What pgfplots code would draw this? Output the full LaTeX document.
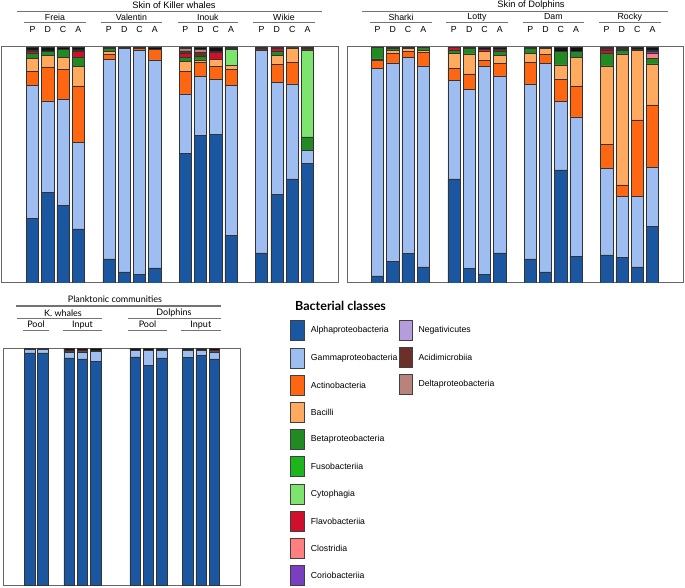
\documentclass[border=0pt]{standalone}
\usepackage{fontspec}
\setmainfont{Liberation Sans}
\newfontfamily\hum{Lato}
\usepackage{pgfplots}
\usepackage{pgfplotstable}
\pgfplotsset{compat=1.18}

\definecolor{cAl}{HTML}{1B57A0}
\definecolor{cGa}{HTML}{9EBDF0}
\definecolor{cAc}{HTML}{FF6612}
\definecolor{cBa}{HTML}{FFAA5E}
\definecolor{cBe}{HTML}{228A22}
\definecolor{cFu}{HTML}{1CB51C}
\definecolor{cCy}{HTML}{7DE56E}
\definecolor{cFl}{HTML}{D20F2A}
\definecolor{cCl}{HTML}{FF7F80}
\definecolor{cCo}{HTML}{7A3FC0}
\definecolor{cNe}{HTML}{B59DDC}
\definecolor{cAd}{HTML}{6B3128}
\definecolor{cDe}{HTML}{B8837A}
\definecolor{cOt}{HTML}{111111}

\pgfplotscreateplotcyclelist{bact}{
{fill=cAl,draw=black!80},{fill=cGa,draw=black!80},{fill=cAc,draw=black!80},
{fill=cBa,draw=black!80},{fill=cBe,draw=black!80},{fill=cFu,draw=black!80},
{fill=cCy,draw=black!80},{fill=cFl,draw=black!80},{fill=cCl,draw=black!80},
{fill=cCo,draw=black!80},{fill=cNe,draw=black!80},{fill=cAd,draw=black!80},
{fill=cDe,draw=black!80},{fill=cOt,draw=black!80}}

\pgfplotstableread{
x Al Ga Ac Ba Be Fu Cy Fl Cl Co Ne Ad De Ot
1 27.4 56.2 6.1 5.5 2.1 0 0 1.1 0 0 0 0.4 0 1.2
2 38.4 38.8 14.4 5.0 1.8 0 0 0 0 0 0 0 0 1.6
3 32.9 45.0 12.7 5.0 3.5 0 0 0 0 0 0 0 0 0.9
4 22.9 36.6 24.0 8.2 4.0 0 0 2.4 0 0 0 0 0.7 1.2
6 10.2 84.7 2.0 1.4 1.0 0 0 0 0 0 0 0 0 0.7
7 4.7 94.8 0 0 0 0 0 0 0 0 0 0 0 0.5
8 3.8 94.9 0.7 0 0 0 0 0 0 0 0 0 0 0.6
9 6.4 88.1 4.5 0 0 0 0 0 0 0 0 0 0 1.0
11 55.0 25.1 9.5 4.2 1.7 0 0 1.8 0 0 0 1.1 1.0 0.6
12 62.4 25.0 6.1 1.0 1.6 0 0 0 0 0 0 1.5 1.4 1.0
13 63.0 23.4 5.4 3.1 0 0 0 2.8 0 0 0 0.4 0 1.9
14 20.3 63.3 6.8 1.7 0 0 6.8 0 0 0 0 0.5 0 0.6
16 12.8 85.9 0 0 0 0 0 0 0 0 0 0.6 0 0.7
17 37.7 47.3 7.5 3.8 1.7 0 0 1.6 0 0 0 0 0 0.4
18 44.1 40.3 9.2 6.0 0 0 0 0 0 0 0 0 0 0.4
19 50.7 5.6 0 0 5.6 0 36.6 0 0 0 0 1.0 0 0.5
}\tKW

\pgfplotstableread{
x Al Ga Ac Ba Be Fu Cy Fl Cl Co Ne Ad De Ot
1 3.0 88.1 3.1 0.8 4.8 0 0 0 0 0 0 0 0 0.2
2 9.3 84.0 4.0 1.4 0.7 0 0 0 0 0 0 0 0 0.6
3 12.6 82.9 2.7 1.1 0 0 0 0 0 0 0 0 0 0.7
4 6.8 85.2 5.8 0.7 1.4 0 0 0 0 0 0 0 0 0.1
6 44.1 41.7 5.3 6.1 1.4 0 0 1.4 0 0 0 0 0 0
7 6.2 76.0 6.4 8.5 2.4 0 0 0 0 0 0 0 0 0.5
8 3.7 88.1 2.4 4.2 0 0 0 0.8 0 0 0 0 0 0.8
9 12.8 75.0 5.4 3.1 1.9 0 0 0 0 0 0 1.0 0 0.8
11 10.2 73.9 9.5 3.8 2.1 0 0 0.3 0 0 0 0 0 0.2
12 4.7 88.4 3.9 2.4 0 0 0 0 0 0 0 0 0 0.6
13 47.9 29.2 9.2 6.1 5.6 0 0 0 0 0 0 0 0 2.0
14 11.4 59.0 13.1 12.0 2.8 0 0 0 0 0 0 0 0 1.7
16 11.9 36.7 10.2 33.2 5.3 0 0 1.4 0 0 0 0.6 0 0.7
17 11.0 25.6 5.0 55.5 1.4 0 0 0.5 0 0 0 0 0.5 0.5
18 6.8 29.8 32.5 29.4 0.7 0 0 0 0 0 0 0 0 0.8
19 23.9 25.2 26.4 17.4 2.4 0 0 0 2.1 0.6 0.5 0 0 1.5
}\tDO

\pgfplotstableread{
x Al Ga Ac Ba Be Fu Cy Fl Cl Co Ne Ad De Ot
1 97.9 1.4 0 0 0 0 0 0 0 0 0 0 0 0.7
2 97.9 1.6 0 0 0 0 0 0 0 0 0 0 0 0.5
4 95.8 2.5 0 0 0 0 0 0 0 0 0 0.8 0 0.9
5 95.4 3.0 0 0 0 0 0 0 0 0 0 0.8 0 0.8
6 94.5 4.3 0 0 0 0 0 0 0 0 0 0 0 1.2
9 96.3 2.8 0 0 0 0 0 0 0 0 0 0 0 0.9
10 92.8 6.3 0 0 0 0 0 0 0 0 0 0 0 0.9
11 95.8 3.4 0 0 0 0 0 0 0 0 0 0 0 0.8
13 96.1 3.1 0 0 0 0 0 0 0 0 0 0 0 0.8
14 97.0 2.2 0 0 0 0 0 0 0 0 0 0 0 0.8
15 95.4 3.0 0 0 0 0 0 0 0 0 0 0.6 0 1.0
}\tPL

\pgfplotsset{bactaxis/.style={scale only axis, anchor=south west,
  ymin=0, ymax=100, ybar stacked, bar width=0.8,
  xtick=\empty, ytick=\empty,
  axis line style={draw=black!60, line width=1pt},
  every axis plot/.append style={line width=0.5pt},
  cycle list name=bact}}

\begin{document}
\begin{tikzpicture}[x=1pt,y=1pt]
\useasboundingbox (0,0) rectangle (685,587);

\begin{axis}[bactaxis, at={(2pt,304pt)}, width=336pt, height=236pt, xmin=-1, xmax=21]
\pgfplotsinvokeforeach{Al,Ga,Ac,Ba,Be,Fu,Cy,Fl,Cl,Co,Ne,Ad,De,Ot}{\addplot table[x=x,y=#1]{\tKW};}
\end{axis}

\begin{axis}[bactaxis, at={(347pt,304pt)}, width=336pt, height=236pt, xmin=-1, xmax=21]
\pgfplotsinvokeforeach{Al,Ga,Ac,Ba,Be,Fu,Cy,Fl,Cl,Co,Ne,Ad,De,Ot}{\addplot table[x=x,y=#1]{\tDO};}
\end{axis}

\begin{axis}[bactaxis, at={(3.3pt,2pt)}, width=237.4pt, height=237pt, xmin=-1, xmax=17]
\pgfplotsinvokeforeach{Al,Ga,Ac,Ba,Be,Fu,Cy,Fl,Cl,Co,Ne,Ad,De,Ot}{\addplot table[x=x,y=#1]{\tPL};}
\end{axis}

\begin{scope}[yshift=587pt, yscale=-1, hl/.style={draw=black!55, line width=1.1pt},
  lab/.style={font=\fontsize{8.8}{10}\selectfont, inner sep=0pt},
  hlab/.style={font=\hum\fontsize{9}{10}\selectfont, inner sep=0pt}]
% Killer whales header
\node[lab, font=\fontsize{9.3}{10}\selectfont] at (174,5.5) {Skin of Killer whales};
\draw[hl] (17,11.5) -- (322,11.5);
\foreach \n/\a/\b in {Freia/24/86, Valentin/101/162, Inouk/177.7/238, Wikie/253/315}{
  \node[lab] at ({(\a+\b)/2},17) {\n};
  \draw[hl] (\a,22.7) -- (\b,22.7);}
\foreach \s/\l in {1/P,2/D,3/C,4/A,6/P,7/D,8/C,9/A,11/P,12/D,13/C,14/A,16/P,17/D,18/C,19/A}{
  \node[lab] at ({2+(\s+1)*15.273},29) {\l};
  \node[lab] at ({347+(\s+1)*15.273},29) {\l};}
% Dolphins header
\node[lab, font=\fontsize{9.3}{10}\selectfont] at (531,5.5) {Skin of Dolphins};
\draw[hl] (362,11.5) -- (668,11.5);
\foreach \n/\a/\b in {Sharki/370/432, Lotty/446/508, Dam/522.7/584, Rocky/599/660.7}{
  \node[lab] at ({(\a+\b)/2},17) {\n};
  \draw[hl] (\a,22.7) -- (\b,22.7);}
% Plankton header
\node[hlab] at (115,299.3) {Planktonic communities};
\draw[hl] (16,306) -- (220.7,306);
\node[hlab] at (63,313.3) {K. whales};
\draw[hl] (16.7,318.3) -- (101.7,318.3);
\node[hlab] at (174,313.3) {Dolphins};
\draw[hl] (128,318.3) -- (220.7,318.3);
\foreach \n/\a/\b in {Pool/22.7/49.3, Input/63.3/101.7, Pool/128.3/166.7, Input/181/220.7}{
  \node[hlab] at ({(\a+\b)/2},324.7) {\n};
  \draw[hl] (\a,330.3) -- (\b,330.3);}
% Legend
\node[anchor=west, inner sep=0pt, font=\hum\bfseries\fontsize{12.5}{13}\selectfont] at (295,305.7) {Bacterial classes};
\foreach \i/\c/\t in {0/cAl/Alphaproteobacteria, 1/cGa/Gammaproteobacteria, 2/cAc/Actinobacteria,
  3/cBa/Bacilli, 4/cBe/Betaproteobacteria, 5/cFu/Fusobacteriia, 6/cCy/Cytophagia,
  7/cFl/Flavobacteriia, 8/cCl/Clostridia, 9/cCo/Coriobacteriia}{
  \filldraw[fill=\c, draw=black!75, line width=0.7pt] (290,{330.7+27.2*\i-10}) rectangle (304,{330.7+27.2*\i+10});
  \node[anchor=west, inner sep=0pt, font=\fontsize{8.7}{10}\selectfont] at (310.7,{330.7+27.2*\i}) {\t};}
\foreach \i/\c/\t in {0/cNe/Negativicutes, 1/cAd/Acidimicrobiia, 2/cDe/Deltaproteobacteria}{
  \filldraw[fill=\c, draw=black!75, line width=0.7pt] (399,{330.2+27.2*\i-10}) rectangle (412.7,{330.2+27.2*\i+10});
  \node[anchor=west, inner sep=0pt, font=\fontsize{8.7}{10}\selectfont] at (418.3,{330.2+27.2*\i}) {\t};}
\end{scope}
\end{tikzpicture}
\end{document}
